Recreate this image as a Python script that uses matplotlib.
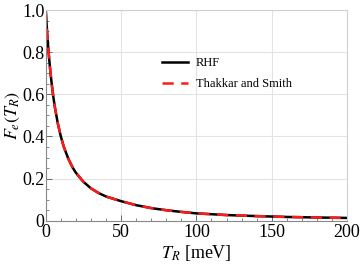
import numpy as np
import matplotlib
matplotlib.use('Agg')
import matplotlib.pyplot as plt
from matplotlib.ticker import MultipleLocator

# values
t_r = [0, 1, 2, 3, 4, 5, 6, 8, 10, 12, 15, 18, 20, 25, 30, 35, 40, 50, 60,
       70, 80, 90, 100, 120, 140, 160, 180, 200]
f_rhf = [1.0, 0.886, 0.792, 0.714, 0.648, 0.591, 0.542, 0.463, 0.401, 0.351,
         0.294, 0.251, 0.228, 0.185, 0.154, 0.132, 0.115, 0.093, 0.074, 0.060,
         0.050, 0.042, 0.035, 0.027, 0.022, 0.018, 0.0154, 0.0133]
f_ts = f_rhf  # the two curves coincide in the picture

plt.rcParams['font.family'] = ['Liberation Serif', 'DejaVu Serif']
plt.rcParams['mathtext.fontset'] = 'stix'

fig = plt.figure(figsize=(3.6, 2.65), dpi=100)
ax = fig.add_axes([0.127, 0.167, 0.837, 0.795])

ax.plot(t_r, f_rhf, color='black', lw=1.8, label='RHF')
ax.plot(t_r, f_ts, color='#ff1a1a', lw=1.8, ls=(0, (4.5, 3)),
        label='Thakkar and Smith')

ax.set_xlim(0, 200)
ax.set_ylim(0, 1.0)
ax.xaxis.set_major_locator(MultipleLocator(50))
ax.xaxis.set_minor_locator(MultipleLocator(10))
ax.yaxis.set_minor_locator(MultipleLocator(0.05))
ax.set_yticks([0, 0.2, 0.4, 0.6, 0.8, 1.0])
ax.set_yticklabels(['0', '0.2', '0.4', '0.6', '0.8', '1.0'])

ax.grid(True, which='major', color='#e3e3e3', lw=0.8)
ax.tick_params(which='both', direction='in', top=False, right=False,
               labelsize=13, colors='#555555', labelcolor='black')
ax.tick_params(which='major', length=4, width=0.6)
ax.tick_params(which='minor', length=2, width=0.5)
ax.tick_params(axis='x', pad=2)
ax.tick_params(axis='y', pad=1)

for s in ['left', 'bottom']:
    ax.spines[s].set_color('#888888')
    ax.spines[s].set_linewidth(0.8)
for s in ['top', 'right']:
    ax.spines[s].set_color('#d0d0d0')
    ax.spines[s].set_linewidth(0.8)

ax.set_xlabel(r'$T_R$ [meV]', fontsize=13)
ax.set_ylabel(r'$F_e(T_R)$', fontsize=13)
ax.xaxis.set_label_coords(0.5, -0.105)
ax.yaxis.set_label_coords(-0.078, 0.5)

ax.legend(loc='upper left', bbox_to_anchor=(0.347, 0.83), frameon=False,
          fontsize=9, handlelength=2.1, handletextpad=0.65, labelspacing=0.7)

fig.savefig('out.png', dpi=100)
